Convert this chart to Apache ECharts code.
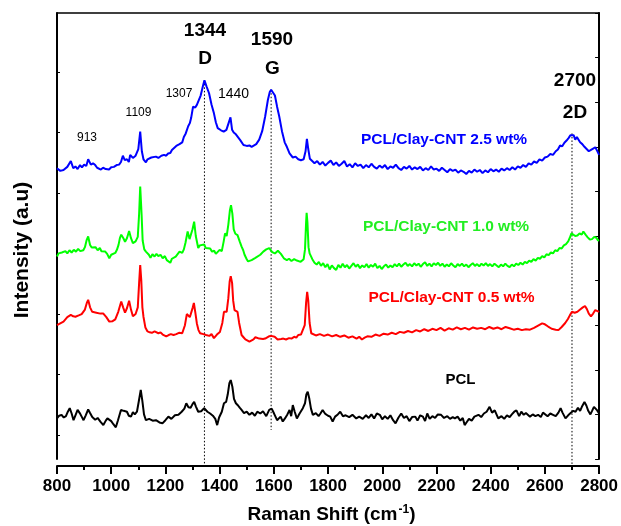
<!DOCTYPE html>
<html>
<head>
<meta charset="utf-8">
<script src="https://cdn.jsdelivr.net/npm/echarts@6/dist/echarts.min.js"></script>
<style>
  html, body { margin: 0; padding: 0; background: #ffffff; }
  #chart { width: 621px; height: 526px; }
</style>
</head>
<body>
<div id="chart"></div>
<script>
// Raman spectra, stacked with vertical offsets (arbitrary intensity units, plot spans 0-100)
// [Raman shift (cm-1), intensity]
const cnt25 = [[800,65.2],[812,64.6],[824,64.8],[838,65.5],[851,66.8],[860,65.2],[868,65.6],[876,65.0],[885,65.9],[892,65.4],[900,66.0],[908,65.7],[915,67.2],[925,66.0],[933,66.3],[941,65.9],[948,65.3],[955,65.5],[962,64.9],[970,65.3],[980,65.0],[992,64.9],[1000,65.4],[1010,65.5],[1020,65.9],[1029,66.0],[1036,66.6],[1043,68.0],[1050,67.0],[1058,67.2],[1065,66.6],[1070,68.2],[1080,67.5],[1090,68.0],[1100,69.5],[1107,73.4],[1113,69.0],[1119,67.2],[1128,66.5],[1134,67.2],[1140,67.0],[1148,67.6],[1155,67.3],[1165,67.8],[1174,67.5],[1185,68.0],[1195,68.2],[1203,68.0],[1210,68.5],[1218,68.6],[1224,69.3],[1230,69.5],[1240,70.2],[1246,70.0],[1252,70.6],[1262,71.0],[1268,72.2],[1275,73.0],[1284,74.6],[1290,75.3],[1295,76.5],[1302,79.0],[1310,78.8],[1316,79.4],[1321,79.0],[1330,81.5],[1338,83.5],[1344,84.9],[1352,83.5],[1361,82.0],[1370,79.5],[1379,77.5],[1386,75.5],[1393,74.2],[1400,74.4],[1405,73.7],[1415,73.4],[1425,73.8],[1432,73.8],[1440,76.6],[1446,73.8],[1452,73.2],[1460,72.8],[1466,72.4],[1476,71.5],[1488,70.4],[1495,70.6],[1500,70.2],[1510,70.3],[1518,70.0],[1525,70.2],[1535,70.6],[1546,71.6],[1557,73.5],[1568,76.8],[1578,80.5],[1585,82.3],[1590,82.8],[1597,82.4],[1604,81.5],[1612,79.0],[1620,76.8],[1630,73.5],[1640,71.0],[1648,70.0],[1658,68.5],[1664,68.9],[1670,67.6],[1680,67.8],[1690,67.2],[1700,67.0],[1710,67.2],[1717,69.0],[1722,71.8],[1727,69.5],[1733,67.3],
  [1740,67.0],[1750,66.3],[1760,66.8],[1770,66.0],[1780,66.6],[1790,65.8],[1800,66.4],[1810,66.9],[1820,65.9],[1830,66.5],[1840,65.7],[1850,66.2],[1860,66.8],[1870,65.6],[1880,66.1],[1890,65.4],[1900,66.3],[1910,65.7],[1920,66.0],[1930,65.2],[1940,65.9],[1950,65.4],[1960,66.2],[1970,65.5],[1980,65.1],[1990,65.8],[2000,65.3],[2010,65.9],[2020,65.0],[2030,65.6],[2040,65.3],[2050,66.0],[2060,65.2],[2070,64.8],[2080,65.5],[2090,65.1],[2100,65.7],[2110,64.9],[2120,65.4],[2130,65.0],[2140,65.5],[2150,64.7],[2160,65.2],[2170,64.8],[2180,65.6],[2190,64.9],[2200,65.1],[2210,64.6],[2220,65.3],[2230,64.8],[2240,64.3],[2250,65.0],[2260,64.6],[2270,64.9],[2280,64.2],[2290,64.7],[2300,64.4],[2310,63.9],[2320,64.6],[2330,64.2],[2340,64.9],[2350,64.4],[2360,64.8],[2370,64.1],[2380,64.7],[2390,64.3],[2400,65.0],[2410,64.5],[2420,64.9],[2430,64.4],[2440,65.1],[2450,64.7],[2460,65.2],[2470,64.8],[2480,65.4],[2490,64.9],[2500,65.6],[2510,65.3],[2520,65.9],[2530,65.5],[2540,66.3],[2550,66.0],[2560,66.7],[2570,66.4],[2580,67.2],[2590,66.9],[2600,67.6],[2610,67.8],[2620,68.4],[2630,68.2],[2640,69.0],[2648,69.4],[2656,70.3],[2664,70.1],[2672,70.9],[2680,71.4],[2688,72.0],[2694,72.6],[2700,73.0],[2706,72.6],[2712,71.6],[2718,72.2],[2724,71.8],[2730,71.0],[2738,70.6],[2746,70.0],[2754,69.5],[2762,69.0],[2770,69.3],[2778,69.6],[2786,69.9],[2792,69.2],[2800,68.2]];

const cnt10 = [[800,45.4],[806,46.1],[812,45.7],[818,46.3],[824,45.9],[831,46.6],[838,46.1],[846,46.8],[854,46.3],[862,46.9],[870,46.5],[878,47.1],[886,46.6],[891,47.0],[897,46.8],[903,47.5],[909,49.0],[915,49.9],[922,48.0],[928,47.4],[934,47.0],[942,47.5],[950,46.8],[958,47.3],[964,46.6],[971,46.9],[978,46.5],[985,46.0],[993,45.0],[1000,45.8],[1005,45.6],[1015,46.2],[1021,46.9],[1027,48.0],[1032,49.5],[1037,50.3],[1045,49.5],[1051,48.7],[1058,49.5],[1066,51.1],[1073,49.5],[1080,48.4],[1090,48.8],[1098,49.8],[1103,55.0],[1107,61.1],[1112,55.0],[1116,49.0],[1122,47.0],[1128,46.5],[1133,46.8],[1139,45.8],[1145,45.1],[1152,45.9],[1160,45.4],[1167,46.0],[1174,45.5],[1182,45.8],[1190,45.0],[1198,45.5],[1205,44.6],[1212,44.2],[1218,44.0],[1224,44.9],[1230,44.6],[1238,45.4],[1245,45.6],[1252,46.5],[1262,46.2],[1268,47.0],[1274,48.5],[1282,51.0],[1289,49.3],[1294,49.2],[1300,51.5],[1306,53.2],[1312,50.0],[1321,47.3],[1327,47.9],[1333,47.6],[1343,48.1],[1349,47.3],[1355,47.6],[1365,47.2],[1372,46.5],[1380,46.7],[1386,46.0],[1393,46.1],[1400,46.9],[1408,46.6],[1415,48.8],[1420,50.6],[1426,50.0],[1432,52.5],[1438,55.8],[1442,56.9],[1447,55.0],[1452,51.5],[1458,50.5],[1466,50.2],[1474,48.8],[1481,47.6],[1487,46.8],[1492,45.8],[1500,44.8],[1505,44.3],[1510,43.9],[1518,44.6],[1525,44.4],[1532,45.1],[1539,45.0],[1550,45.8],[1556,45.6],[1561,46.5],[1567,46.3],[1572,47.0],[1578,46.8],[1583,47.3],[1588,46.9],[1594,46.4],[1599,46.8],[1604,46.1],[1610,46.3],[1615,46.7],[1620,46.4],[1626,46.0],[1632,45.6],[1637,45.0],[1643,44.8],[1648,44.6],[1656,44.9],[1665,44.4],[1675,44.8],[1685,44.5],[1692,44.9],[1699,44.2],[1705,44.6],[1710,44.8],[1715,47.0],[1719,53.0],[1721,55.2],[1724,53.0],[1728,47.5],[1732,46.1],
  [1742,44.8],[1750,44.0],[1758,43.6],[1766,44.2],[1774,43.3],[1782,43.9],[1790,43.0],[1798,43.7],[1806,42.5],[1814,43.4],[1822,42.8],[1830,42.4],[1838,43.5],[1846,42.9],[1854,43.8],[1862,43.0],[1870,43.5],[1878,42.7],[1886,43.3],[1894,43.9],[1902,43.1],[1910,43.6],[1918,42.8],[1926,43.4],[1934,43.0],[1942,43.7],[1950,42.9],[1958,43.5],[1966,43.1],[1974,43.8],[1982,42.8],[1990,43.3],[1998,42.6],[2006,43.2],[2014,43.6],[2022,42.9],[2030,43.4],[2038,43.0],[2046,43.7],[2054,43.2],[2062,43.8],[2070,43.1],[2078,43.6],[2086,44.0],[2094,43.3],[2102,43.7],[2110,43.2],[2118,43.9],[2126,43.4],[2134,43.8],[2142,43.1],[2150,43.7],[2158,44.1],[2166,43.3],[2174,43.8],[2182,43.2],[2190,43.9],[2198,43.5],[2206,44.0],[2214,43.3],[2222,43.8],[2230,43.1],[2238,43.6],[2246,43.2],[2254,43.9],[2262,43.4],[2270,43.0],[2278,43.7],[2286,43.3],[2294,43.8],[2302,43.2],[2310,43.6],[2318,43.0],[2326,43.5],[2334,43.9],[2342,43.3],[2350,43.7],[2358,43.2],[2366,43.8],[2374,43.4],[2382,43.9],[2390,43.3],[2398,43.7],[2406,43.2],[2414,43.8],[2422,43.4],[2430,43.0],[2438,43.6],[2446,43.2],[2454,43.8],[2462,43.3],[2470,43.0],[2478,43.6],[2486,43.2],[2494,43.8],[2502,43.5],[2510,44.0],[2518,43.6],[2526,44.2],[2534,43.9],[2542,44.5],[2550,44.2],[2558,44.8],[2566,44.5],[2574,45.1],[2582,44.9],[2590,45.5],[2598,45.2],[2606,45.9],[2614,45.7],[2622,46.3],[2630,46.1],[2638,46.8],[2646,46.6],[2654,47.3],[2662,47.2],[2670,47.9],[2678,48.2],[2686,48.8],[2692,49.6],[2698,50.6],[2704,50.5],[2712,50.0],[2720,50.1],[2728,50.6],[2736,50.3],[2742,51.0],[2750,50.3],[2758,49.7],[2766,49.2],[2774,49.3],[2782,49.8],[2790,49.6],[2796,49.0],[2800,49.1]];

const cnt05 = [[800,30.0],[812,30.4],[824,30.8],[838,31.8],[851,32.3],[860,32.0],[868,31.9],[880,32.2],[891,32.5],[903,33.5],[910,35.0],[915,35.7],[922,34.0],[930,33.0],[937,33.2],[945,32.8],[952,33.1],[960,32.6],[971,32.6],[982,31.8],[993,30.8],[1005,30.9],[1015,31.3],[1026,33.0],[1037,35.3],[1044,34.0],[1051,32.8],[1058,33.8],[1066,35.5],[1073,33.5],[1080,32.0],[1090,32.5],[1098,34.0],[1103,39.5],[1107,43.5],[1111,40.0],[1115,34.0],[1119,31.9],[1126,29.5],[1134,28.6],[1142,28.4],[1150,28.3],[1160,28.6],[1167,28.3],[1174,28.2],[1182,28.4],[1190,27.9],[1196,28.1],[1203,27.5],[1212,27.8],[1220,28.0],[1230,27.8],[1240,28.0],[1250,28.3],[1262,28.2],[1272,30.0],[1279,32.5],[1285,32.8],[1290,31.8],[1296,32.0],[1301,34.0],[1305,35.0],[1310,33.0],[1316,30.4],[1322,28.9],[1328,28.2],[1334,28.4],[1340,28.0],[1350,27.8],[1356,28.1],[1362,27.6],[1370,28.0],[1379,27.1],[1390,27.9],[1401,28.5],[1410,30.5],[1416,33.0],[1420,33.4],[1426,33.0],[1432,36.0],[1437,39.8],[1441,41.0],[1446,39.5],[1450,35.5],[1455,33.4],[1461,33.2],[1466,33.0],[1472,30.5],[1481,27.8],[1488,27.3],[1495,26.8],[1502,26.6],[1510,26.3],[1517,26.6],[1525,26.8],[1532,27.3],[1539,27.4],[1546,27.0],[1552,27.2],[1560,26.9],[1568,27.0],[1575,27.3],[1582,27.5],[1590,27.6],[1597,27.9],[1603,27.4],[1608,27.0],[1614,26.8],[1619,26.6],[1627,26.9],[1635,27.0],[1645,26.8],[1656,27.1],[1665,27.0],[1675,27.4],[1683,27.2],[1690,27.8],[1700,27.9],[1707,28.2],[1714,30.0],[1719,35.0],[1723,37.5],[1727,35.5],[1732,30.5],[1738,28.2],
  [1755,27.7],[1770,28.0],[1785,27.6],[1800,27.9],[1815,27.5],[1830,27.8],[1845,27.4],[1860,27.7],[1875,27.2],[1890,27.5],[1905,27.0],[1915,27.4],[1925,26.8],[1935,27.2],[1945,27.5],[1960,27.4],[1975,27.9],[1990,27.6],[2005,28.1],[2020,27.9],[2035,28.3],[2050,28.0],[2065,28.5],[2080,28.3],[2095,28.7],[2110,28.4],[2125,28.9],[2140,28.6],[2155,29.1],[2170,28.7],[2185,29.2],[2200,28.9],[2215,29.4],[2230,28.8],[2245,29.3],[2260,29.0],[2275,29.5],[2290,29.1],[2305,29.4],[2320,29.0],[2335,29.5],[2350,29.2],[2365,29.4],[2380,29.1],[2395,29.6],[2410,29.2],[2425,29.5],[2440,29.1],[2455,29.6],[2470,29.3],[2485,29.0],[2500,29.2],[2515,28.9],[2530,29.1],[2545,29.0],[2560,29.4],[2575,29.9],[2590,30.4],[2600,30.2],[2612,29.7],[2625,29.2],[2640,29.0],[2650,28.9],[2662,29.6],[2675,30.5],[2685,31.4],[2692,32.2],[2700,33.0],[2710,32.8],[2720,33.0],[2730,33.5],[2740,34.0],[2748,34.3],[2755,33.6],[2762,32.6],[2770,32.0],[2778,32.6],[2786,33.4],[2793,33.3],[2800,33.0]];

const pclX = [800,808,817,825,833,840,847,854,861,868,876,884,891,898,906,915,922,930,941,950,960,971,980,986,992,1000,1008,1017,1025,1036,1046,1058,1065,1073,1080,1087,1095,1102,1109,1115,1121,1128,1140,1153,1165,1178,1189,1200,1211,1222,1235,1248,1260,1270,1277,1285,1293,1300,1306,1313,1321,1332,1343,1355,1365,1375,1384,1391,1398,1408,1416,1424,1430,1436,1441,1447,1453,1460,1468,1474,1481,1490,1500,1510,1520,1530,1539,1550,1560,1572,1583,1592,1600,1612,1625,1633,1641,1650,1658,1664,1670,1677,1685,1695,1707,1715,1720,1725,1731,1737,1744,1755,1765,1772,1780,1790,1800,1808,1817,1826,1836,1845,1855,1865,1878,1890,1904,1915,1928,1940,1950,1960,1970,1980,1991,2000,2010,2020,2030,2040,2049,2060,2070,2080,2090,2100,2110,2122,2130,2140,2150,2158,2166,2175,2185,2195,2205,2217,2228,2240,2250,2260,2268,2278,2288,2297,2304,2312,2320,2330,2340,2355,2365,2375,2385,2396,2405,2415,2428,2440,2450,2460,2470,2478,2487,2495,2505,2513,2522,2530,2545,2555,2565,2575,2585,2593,2600,2610,2620,2630,2640,2650,2658,2665,2676,2686,2695,2705,2713,2722,2730,2738,2746,2753,2760,2768,2775,2781,2786,2793,2800];
const pclY = [9.1,9.7,9.9,9.3,9.6,10.6,11.4,10.2,8.7,9.8,11.0,10.3,9.5,8.7,9.8,11.1,10.3,9.4,8.8,9.2,8.4,7.6,8.6,9.1,9.1,8.5,7.8,7.1,8.7,11.0,10.8,10.6,9.7,9.5,10.5,10.0,10.6,13.0,15.5,13.0,10.0,8.7,9.0,8.6,8.7,8.2,8.0,8.7,9.5,9.0,9.8,9.9,10.6,11.3,12.5,11.6,11.5,12.3,12.8,11.7,10.6,10.7,11.4,10.6,10.2,9.7,9.0,7.6,9.3,10.6,12.5,12.8,14.5,17.0,17.7,16.2,13.5,12.5,12.0,11.5,11.0,10.3,10.6,9.9,10.4,9.7,10.6,10.2,10.7,9.6,11.0,11.3,10.3,8.7,9.5,8.4,9.1,10.0,11.0,9.6,12.1,10.6,9.1,10.2,11.4,12.5,14.5,15.1,13.5,11.3,9.9,10.3,9.6,10.2,11.0,10.1,9.7,9.5,8.4,9.5,10.0,10.6,9.6,9.8,9.4,9.9,9.1,9.5,9.0,9.8,9.2,10.0,9.1,10.2,9.9,8.9,9.6,9.0,9.8,8.7,8.0,9.3,10.2,9.2,9.6,8.5,9.4,9.5,8.6,9.8,9.5,8.5,10.2,9.0,9.6,9.2,10.0,9.9,9.2,9.6,9.0,9.4,9.1,9.5,8.6,9.2,7.6,8.3,9.0,8.6,9.5,9.9,9.4,10.2,10.6,11.7,10.4,10.9,9.1,9.6,9.0,9.8,9.4,10.0,10.6,10.9,9.6,10.6,9.9,10.3,9.5,10.0,9.6,9.9,9.4,10.4,10.2,9.6,10.2,9.9,9.6,10.4,11.4,10.4,9.1,9.8,10.3,10.8,10.6,11.5,10.8,11.9,12.8,12.0,10.8,10.0,10.9,11.7,12.1,10.9,10.2];

// band assignments marked with dotted guides on the 2.5 wt% spectrum
const bandShifts = [1344, 1590, 2700];
const bandNames = ['D', 'G', '2D'];
// smaller peak labels
const minorPeaks = ['913', '1109', '1307', '1440'];
// x axis ticks
const xMin = 800, xMax = 2800, xStep = 200;

const FONT = '"Liberation Sans", Arial, Helvetica, sans-serif';

function pairs(xs, ys) { return xs.map((x, i) => [x, ys[i]]); }
function valueAt(data, x) { const p = data.find(d => d[0] === x); return p ? p[1] : 0; }

const guideBottoms = [-1.5, 6.5, -1.5];
const guideSeries = bandShifts.map((s, i) => ({
  type: 'line',
  data: [[s, valueAt(cnt25, s)], [s, guideBottoms[i]]],
  showSymbol: false,
  clip: false,
  silent: true,
  z: 1,
  lineStyle: { color: '#000', width: 1, type: [1.5, 2] }
}));

function spectrum(name, data, color) {
  return {
    name: name, type: 'line', data: data, showSymbol: false,
    z: 3, lineStyle: { color: color, width: 2 }, animation: false
  };
}

const leftTicks = [5.38, 18.95, 32.5, 46.1, 59.6, 73.2, 86.8];

const chart = echarts.init(document.getElementById('chart'), null, { renderer: 'canvas' });
chart.setOption({
  animation: false,
  backgroundColor: '#ffffff',
  grid: { left: 57, right: 21, top: 13, bottom: 67 },
  xAxis: [{
    type: 'value', min: xMin, max: xMax, interval: xStep, offset: 7, position: 'bottom',
    axisLine: { show: true, onZero: false, lineStyle: { color: '#000', width: 2 } },
    axisTick: { show: true, inside: false, length: 8, lineStyle: { color: '#000', width: 2 } },
    minorTick: { show: true, splitNumber: 2, length: 4, lineStyle: { color: '#000', width: 2 } },
    splitLine: { show: false },
    axisLabel: { color: '#000', fontFamily: FONT, fontWeight: 'bold', fontSize: 17, margin: 12,
      formatter: v => String(v) }
  }, {
    type: 'value', min: xMin, max: xMax, position: 'top',
    axisLine: { show: true, onZero: false, lineStyle: { color: '#000', width: 1.5 } },
    axisTick: { show: false }, axisLabel: { show: false }, splitLine: { show: false }
  }],
  yAxis: [{
    type: 'value', min: 0, max: 100, position: 'left',
    axisLine: { show: true, onZero: false, lineStyle: { color: '#000', width: 2 } },
    axisTick: { show: true, inside: true, length: 3, customValues: leftTicks, lineStyle: { color: '#000', width: 1 } },
    axisLabel: { show: false }, splitLine: { show: false }
  }, {
    type: 'value', min: 0, max: 100, interval: 10, position: 'right',
    axisLine: { show: true, onZero: false, lineStyle: { color: '#000', width: 2 } },
    axisTick: { show: true, inside: true, length: 4, lineStyle: { color: '#000', width: 1 } },
    axisLabel: { show: false }, splitLine: { show: false }
  }],
  series: guideSeries.concat([
    spectrum('PCL', pairs(pclX, pclY), '#000000'),
    spectrum('PCL/Clay-CNT 0.5 wt%', cnt05, '#ff0000'),
    spectrum('PCL/Clay-CNT 1.0 wt%', cnt10, '#00ff00'),
    spectrum('PCL/Clay-CNT 2.5 wt%', cnt25, '#0000ff')
  ])
});

function txt(text, x, y, size, weight, color, extra) {
  return Object.assign({
    type: 'text', x: x, y: y, silent: true, z: 10,
    style: { text: text, fill: color || '#000', font: weight + ' ' + size + 'px ' + FONT, align: 'center', verticalAlign: 'middle' }
  }, extra || {});
}

const g = [];
// band positions and names
g.push(txt(String(bandShifts[0]), 205, 31, 19, 'bold'));
g.push(txt(bandNames[0], 205, 59, 19, 'bold'));
g.push(txt(String(bandShifts[1]), 272, 40, 19, 'bold'));
g.push(txt(bandNames[1], 272.5, 69, 19, 'bold'));
g.push(txt(String(bandShifts[2]), 575, 81, 19, 'bold'));
g.push(txt(bandNames[2], 575, 113, 19, 'bold'));
// minor peaks
g.push(txt(minorPeaks[0], 87, 138, 12, 'normal'));
g.push(txt(minorPeaks[1], 138.5, 112.5, 12, 'normal'));
g.push(txt(minorPeaks[2], 179, 93.5, 12, 'normal'));
g.push(txt(minorPeaks[3], 233.5, 94, 14, 'normal'));
// spectrum names
g.push(txt('PCL/Clay-CNT 2.5 wt%', 444, 140, 15.5, 'bold', '#0000ff'));
g.push(txt('PCL/Clay-CNT 1.0 wt%', 446, 226.5, 15.5, 'bold', '#22ee22'));
g.push(txt('PCL/Clay-CNT 0.5 wt%', 451.5, 297.5, 15.5, 'bold', '#ff0000'));
g.push(txt('PCL', 460.5, 380, 15, 'bold', '#000'));
// axis titles
g.push({
  type: 'text', x: 331.5, y: 515, silent: true,
  style: {
    text: '{t|Raman Shift (cm}{s|-1}{t|)}', align: 'center', verticalAlign: 'middle',
    rich: {
      t: { font: 'bold 19px ' + FONT, fill: '#000' },
      s: { font: 'bold 12px ' + FONT, fill: '#000', padding: [0, 0, 10, 1] }
    }
  }
});
g.push(txt('Intensity (a.u)', 22.5, 250, 21, 'bold', '#000', { rotation: Math.PI / 2 }));
chart.setOption({ graphic: g });
</script>
</body>
</html>
